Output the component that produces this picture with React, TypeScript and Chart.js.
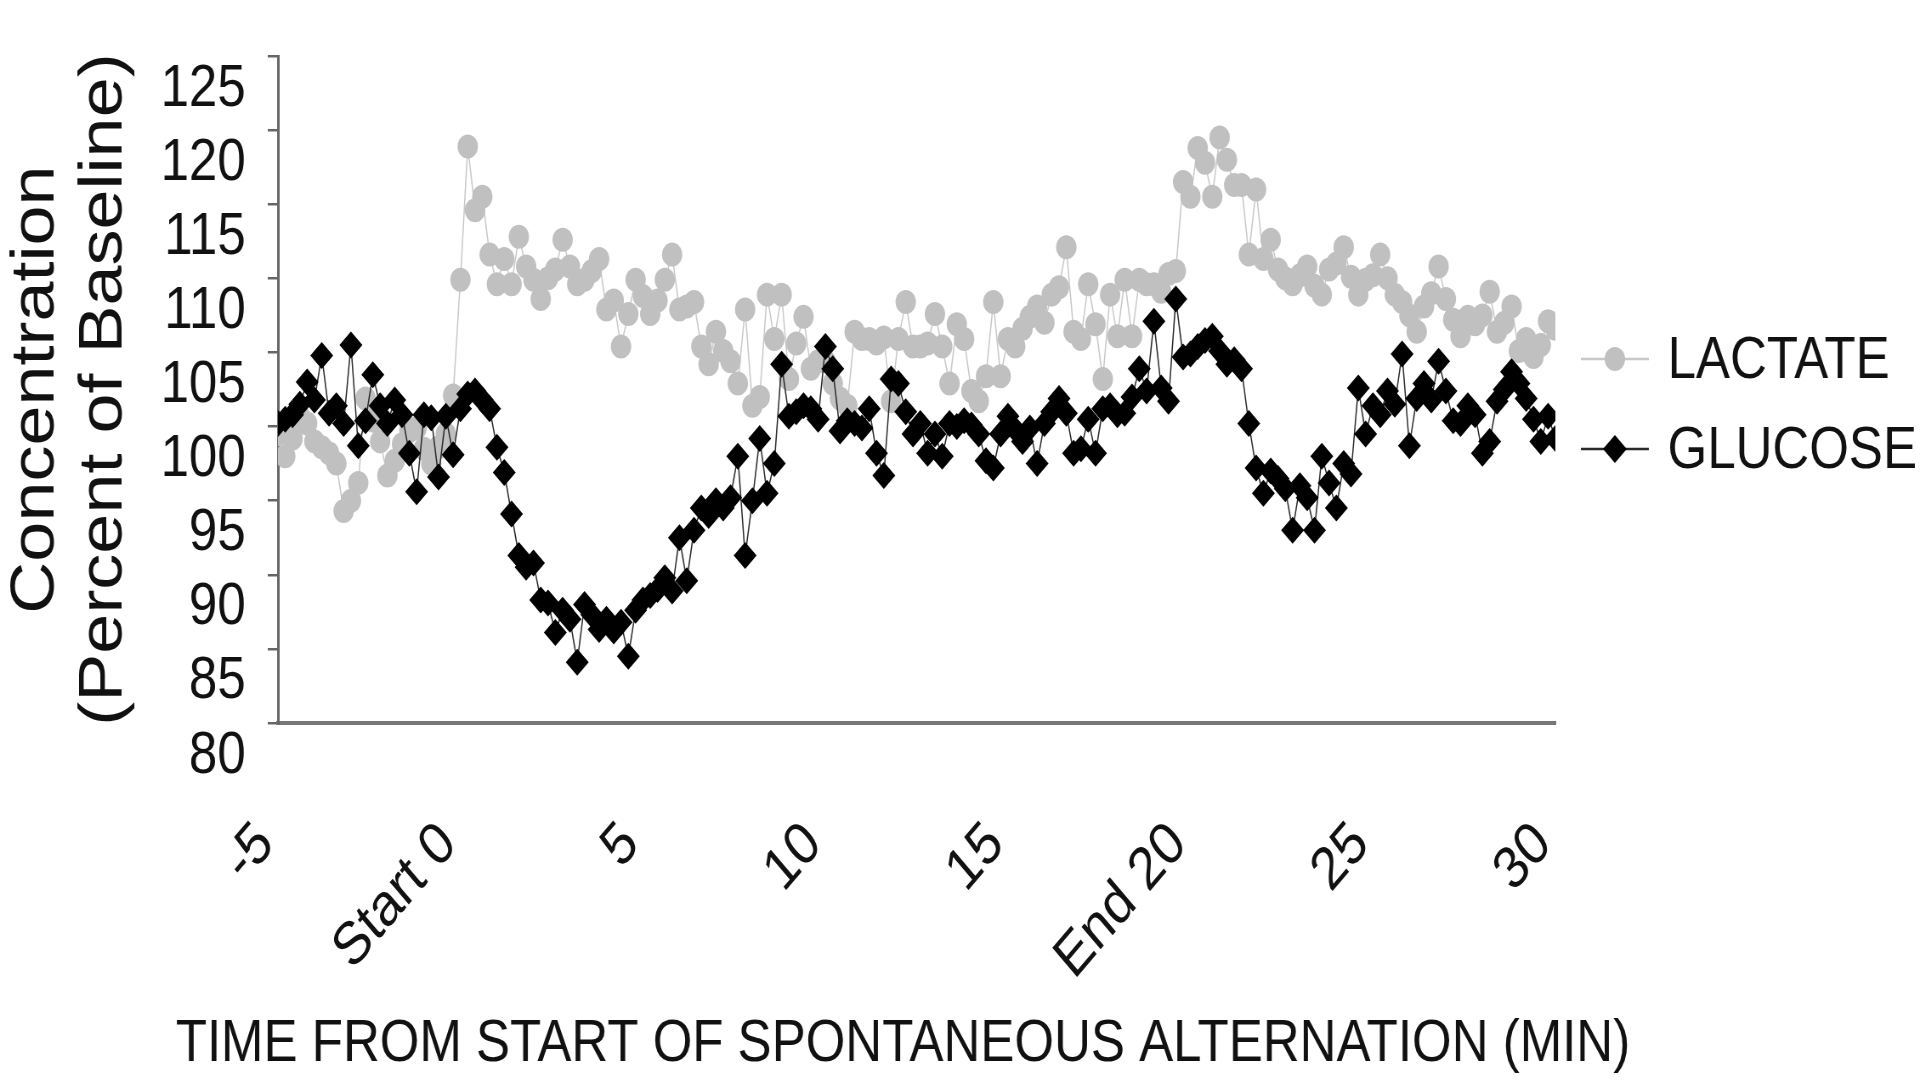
import React, { useEffect, useRef } from 'react';
import { Chart, registerables } from 'chart.js';

Chart.register(...registerables);

// Time from start of spontaneous alternation (min)
const timeMin = [
  -5, -4.8, -4.6, -4.4, -4.2, -4, -3.8, -3.6, -3.4, -3.2,
  -3, -2.8, -2.6, -2.4, -2.2, -2, -1.8, -1.6, -1.4, -1.2,
  -1, -0.8, -0.6, -0.4, -0.2, 0, 0.2, 0.4, 0.6, 0.8,
  1, 1.2, 1.4, 1.6, 1.8, 2, 2.2, 2.4, 2.6, 2.8,
  3, 3.2, 3.4, 3.6, 3.8, 4, 4.2, 4.4, 4.6, 4.8,
  5, 5.2, 5.4, 5.6, 5.8, 6, 6.2, 6.4, 6.6, 6.8,
  7, 7.2, 7.4, 7.6, 7.8, 8, 8.2, 8.4, 8.6, 8.8,
  9, 9.2, 9.4, 9.6, 9.8, 10, 10.2, 10.4, 10.6, 10.8,
  11, 11.2, 11.4, 11.6, 11.8, 12, 12.2, 12.4, 12.6, 12.8,
  13, 13.2, 13.4, 13.6, 13.8, 14, 14.2, 14.4, 14.6, 14.8,
  15, 15.2, 15.4, 15.6, 15.8, 16, 16.2, 16.4, 16.6, 16.8,
  17, 17.2, 17.4, 17.6, 17.8, 18, 18.2, 18.4, 18.6, 18.8,
  19, 19.2, 19.4, 19.6, 19.8, 20, 20.2, 20.4, 20.6, 20.8,
  21, 21.2, 21.4, 21.6, 21.8, 22, 22.2, 22.4, 22.6, 22.8,
  23, 23.2, 23.4, 23.6, 23.8, 24, 24.2, 24.4, 24.6, 24.8,
  25, 25.2, 25.4, 25.6, 25.8, 26, 26.2, 26.4, 26.6, 26.8,
  27, 27.2, 27.4, 27.6, 27.8, 28, 28.2, 28.4, 28.6, 28.8,
  29, 29.2, 29.4, 29.6, 29.8, 30,
];

// Lactate (% of baseline)
const lactate = [
  99.5, 98.0, 99.2, 100.7, 100.2, 99.0, 98.6, 98.2, 97.5, 94.3,
  95.0, 96.2, 101.9, 100.4, 99.0, 96.7, 97.7, 98.8, 99.7, 99.9,
  98.5, 97.5, 98.6, 99.5, 102.1, 109.9, 118.9, 114.6, 115.5, 111.6,
  109.6, 111.3, 109.6, 112.8, 110.8, 109.9, 108.6, 110.0, 110.6, 112.6,
  110.8, 109.6, 109.9, 110.5, 111.3, 107.9, 108.5, 105.4, 107.6, 109.9,
  108.8, 107.6, 108.5, 109.9, 111.6, 107.9, 108.1, 108.4, 105.4, 104.2,
  106.4, 105.1, 104.4, 102.9, 107.9, 101.4, 102.0, 108.9, 105.9, 108.9,
  103.2, 105.6, 107.4, 103.9, 104.4, 104.4, 102.9, 101.9, 101.4, 106.4,
  105.9, 105.9, 105.6, 106.0, 101.7, 105.9, 108.4, 105.4, 105.4, 105.6,
  107.6, 105.4, 102.9, 106.9, 105.9, 102.4, 101.7, 103.4, 108.4, 103.4,
  105.9, 105.4, 106.6, 107.4, 108.1, 107.0, 108.9, 109.4, 112.1, 106.4,
  105.9, 109.6, 106.9, 103.2, 108.9, 106.1, 109.9, 106.1, 109.9, 109.6,
  109.6, 109.1, 110.3, 110.5, 116.5, 115.5, 118.8, 117.8, 115.5, 119.5,
  118.0, 116.3, 116.3, 111.6, 116.0, 111.3, 112.6, 110.6, 110.0, 109.6,
  110.2, 110.8, 109.5, 108.9, 110.6, 111.0, 112.1, 110.1, 108.9, 109.9,
  110.2, 111.6, 110.0, 108.9, 108.4, 107.5, 106.4, 108.1, 109.0, 110.8,
  108.6, 107.2, 106.1, 107.4, 106.9, 107.5, 109.1, 106.4, 107.0, 108.1,
  105.1, 105.9, 104.7, 105.5, 107.1, 106.6,
];

// Glucose (% of baseline)
const glucose = [
  100.2, 100.5, 100.8, 101.5, 103.0, 101.8, 104.8, 100.9, 101.4, 100.2,
  105.5, 98.7, 100.4, 103.5, 101.4, 100.2, 101.8, 100.8, 98.2, 95.6,
  100.8, 100.6, 96.6, 100.7, 98.1, 101.2, 102.2, 102.4, 101.8, 101.2,
  98.6, 96.9, 94.1, 91.3, 90.5, 90.8, 88.3, 88.1, 86.1, 87.6,
  87.0, 84.1, 88.0, 87.3, 86.3, 87.0, 86.2, 86.8, 84.5, 87.6,
  88.3, 88.6, 89.0, 89.8, 88.9, 92.5, 89.6, 93.0, 94.5, 94.0,
  95.0, 94.5, 95.2, 98.0, 91.3, 95.0, 99.2, 95.5, 97.5, 104.2,
  100.7, 101.0, 101.4, 101.2, 100.5, 105.4, 103.9, 99.7, 100.4, 100.2,
  99.9, 101.2, 98.2, 96.7, 103.2, 102.9, 101.0, 99.5, 100.2, 98.2,
  99.5, 98.0, 100.2, 100.0, 100.4, 100.1, 99.5, 97.7, 97.2, 99.5,
  100.7, 99.8, 99.0, 99.9, 97.5, 100.2, 101.0, 101.9, 100.9, 98.2,
  98.5, 100.5, 98.2, 101.2, 101.4, 100.8, 100.9, 102.0, 103.9, 102.4,
  107.1, 102.6, 101.7, 108.6, 104.7, 104.9, 105.4, 105.8, 106.1, 105.1,
  104.2, 104.5, 103.9, 100.2, 97.2, 95.5, 97.0, 96.5, 95.8, 93.0,
  96.0, 95.2, 93.0, 98.0, 96.2, 94.5, 97.5, 96.8, 102.6, 99.5,
  101.4, 100.8, 102.4, 101.5, 104.9, 98.7, 101.9, 102.9, 101.8, 104.4,
  102.4, 100.4, 100.2, 101.4, 100.8, 98.2, 99.0, 101.7, 102.5, 103.7,
  102.9, 101.9, 100.5, 99.0, 100.7, 99.2,
];

const seriesNames = ['LACTATE', 'GLUCOSE'];
const xTickValues = [-5, 0, 5, 10, 15, 20, 25, 30];
const xTickLabels = ['-5', 'Start 0', '5', '10', '15', 'End 20', '25', '30'];
const yTickValues = [80, 85, 90, 95, 100, 105, 110, 115, 120, 125];
const xTitle = 'TIME FROM START OF SPONTANEOUS ALTERNATION (MIN)';
const yTitle = ['Concentration', '(Percent of Baseline)'];

const FONT = '"Liberation Sans", Arial, Helvetica, sans-serif';

// The reference picture is horizontally condensed; the chart is drawn on a
// wider canvas that the browser displays at 1920 px wide.
const SQUEEZE = 0.85;
const VIEW_W = 1920;
const VIEW_H = 1085;
const CANVAS_W = Math.round(VIEW_W / SQUEEZE);

const sideLegend = {
  id: 'sideLegend',
  afterDraw(chart: any) {
    const ctx = chart.ctx;
    const area = chart.chartArea;
    const rows = [359, 449];
    const lineStart = area.right + 30;
    const lineEnd = area.right + 110;
    const mid = (lineStart + lineEnd) / 2;
    ctx.save();
    chart.data.datasets.forEach((ds: any, i: number) => {
      const y = rows[i];
      ctx.strokeStyle = ds.borderColor;
      ctx.lineWidth = 2.5;
      ctx.beginPath();
      ctx.moveTo(lineStart, y);
      ctx.lineTo(lineEnd, y);
      ctx.stroke();
      ctx.fillStyle = ds.backgroundColor;
      ctx.beginPath();
      if (ds.pointStyle === 'rectRot') {
        const r = 14;
        ctx.moveTo(mid, y - r);
        ctx.lineTo(mid + r, y);
        ctx.lineTo(mid, y + r);
        ctx.lineTo(mid - r, y);
        ctx.closePath();
      } else {
        ctx.arc(mid, y, 12, 0, Math.PI * 2);
      }
      ctx.fill();
      ctx.fillStyle = '#111';
      ctx.font = `60px ${FONT}`;
      ctx.textBaseline = 'middle';
      ctx.textAlign = 'left';
      ctx.fillText(ds.label, lineEnd + 22, y + 2);
    });
    ctx.restore();
  },
};

const bottomTitle = {
  id: 'bottomTitle',
  afterDraw(chart: any) {
    const ctx = chart.ctx;
    ctx.save();
    ctx.fillStyle = '#111';
    ctx.font = `60px ${FONT}`;
    ctx.textAlign = 'center';
    ctx.textBaseline = 'middle';
    ctx.fillText(xTitle, 903 / SQUEEZE, 1044);
    ctx.restore();
  },
};

export default function App() {
  const canvasRef = useRef<HTMLCanvasElement>(null);

  useEffect(() => {
    const canvas = canvasRef.current;
    if (!canvas) return;
    const lactatePts = timeMin.map((t, i) => ({ x: t, y: lactate[i] }));
    const glucosePts = timeMin.map((t, i) => ({ x: t, y: glucose[i] }));

    const chart = new Chart(canvas, {
      type: 'line',
      data: {
        datasets: [
          {
            label: seriesNames[0],
            data: lactatePts,
            borderColor: '#c8c8c8',
            backgroundColor: '#c0c0c0',
            borderWidth: 1.5,
            pointStyle: 'circle',
            pointRadius: 12,
            pointBorderWidth: 0,
            pointBackgroundColor: '#c0c0c0',
            tension: 0,
            order: 1,
          },
          {
            label: seriesNames[1],
            data: glucosePts,
            borderColor: '#2a2a2a',
            backgroundColor: '#000000',
            borderWidth: 1.5,
            pointStyle: 'rectRot',
            pointRadius: 13.5,
            pointBorderWidth: 0,
            pointBackgroundColor: '#000000',
            tension: 0,
            order: 0,
          },
        ],
      },
      options: {
        responsive: false,
        animation: false,
        devicePixelRatio: 1,
        layout: { padding: { top: 54, right: Math.round((VIEW_W - 1555) / SQUEEZE), left: 0, bottom: 0 } },
        plugins: {
          legend: { display: false },
          tooltip: { enabled: false },
        },
        scales: {
          x: {
            type: 'linear',
            min: xTickValues[0],
            max: xTickValues[xTickValues.length - 1],
            afterBuildTicks: (scale: any) => {
              scale.ticks = xTickValues.map((v) => ({ value: v }));
            },
            afterFit: (scale: any) => {
              scale.height = VIEW_H - 723;
            },
            ticks: {
              autoSkip: false,
              minRotation: 45,
              maxRotation: 45,
              padding: 86,
              labelOffset: -14,
              color: '#111',
              font: { family: FONT, size: 60 },
              callback: (v: any) => {
                const idx = xTickValues.indexOf(Number(v));
                return idx >= 0 ? xTickLabels[idx] : '';
              },
            },
            grid: { display: false, drawTicks: false },
            border: { display: true, color: '#777777', width: 4 },
          },
          y: {
            type: 'linear',
            min: yTickValues[0],
            max: yTickValues[yTickValues.length - 1],
            afterBuildTicks: (scale: any) => {
              scale.ticks = yTickValues.map((v) => ({ value: v }));
            },
            afterFit: (scale: any) => {
              scale.width = Math.round(278 / SQUEEZE);
            },
            ticks: {
              autoSkip: false,
              labelOffset: 33,
              padding: 26,
              color: '#111',
              font: { family: FONT, size: 60, lineHeight: 1.0 },
            },
            grid: {
              drawOnChartArea: false,
              drawTicks: true,
              tickLength: 12,
              color: '#666666',
              lineWidth: 2.5,
            },
            border: { display: true, color: '#666666', width: 3 },
            title: {
              display: true,
              text: yTitle,
              color: '#111',
              font: { family: FONT, size: 72, lineHeight: 1.1 },
              padding: { top: 4, bottom: 0 },
            },
          },
        },
      },
      plugins: [sideLegend, bottomTitle],
    });

    return () => chart.destroy();
  }, []);

  return (
    <div style={{ position: 'fixed', left: 0, top: 0, width: VIEW_W, height: VIEW_H, background: '#fff' }}>
      <canvas
        ref={canvasRef}
        width={CANVAS_W}
        height={VIEW_H}
        style={{ display: 'block', width: VIEW_W, height: VIEW_H }}
      />
    </div>
  );
}
